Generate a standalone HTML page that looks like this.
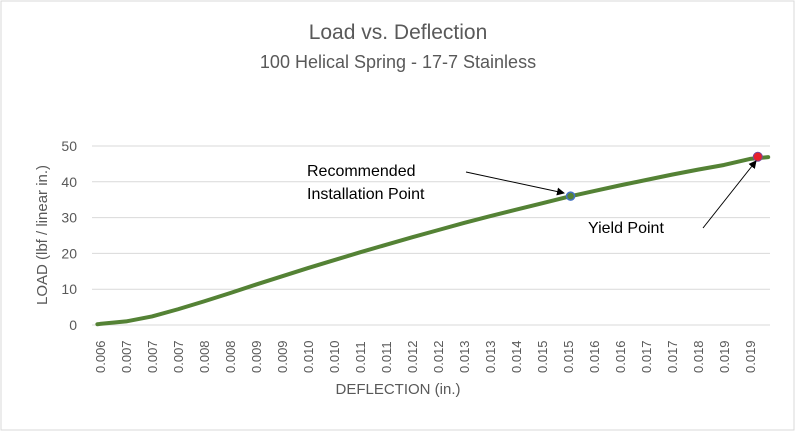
<!DOCTYPE html>
<html><head><meta charset="utf-8"><style>
body{margin:0;background:#fff}
svg{display:block;font-family:"Liberation Sans",sans-serif}
</style></head><body>
<svg id="chart" width="796" height="432">
<rect x="1" y="1" width="793" height="429" fill="#fff" stroke="#d9d9d9"/>
<text x="398" y="39" text-anchor="middle" font-size="21" fill="#595959">Load vs. Deflection</text>
<text x="398" y="68" text-anchor="middle" font-size="18" fill="#595959">100 Helical Spring - 17-7 Stainless</text>
<g id="grid"></g><g id="yt"></g><g id="xt"></g><g id="series"></g>
<text x="398" y="394" text-anchor="middle" font-size="15" fill="#595959">DEFLECTION (in.)</text>
<text transform="translate(47,235) rotate(-90)" text-anchor="middle" font-size="15" fill="#595959">LOAD (lbf / linear in.)</text>
<defs><marker id="ah" markerWidth="8" markerHeight="8" refX="7" refY="4" orient="auto"><path d="M0,0 L8,4 L0,8 z" fill="#000"/></marker></defs>
<text x="307" y="176" font-size="16" fill="#000">Recommended</text>
<text x="307" y="199" font-size="16" fill="#000">Installation Point</text>
<line x1="466" y1="172" x2="564" y2="193" stroke="#000" stroke-width="1" marker-end="url(#ah)"/>
<text x="588" y="233" font-size="16" fill="#000">Yield Point</text>
<line x1="703" y1="228" x2="756" y2="161" stroke="#000" stroke-width="1" marker-end="url(#ah)"/>
</svg>
<script>
const tickLabels=["0.006","0.007","0.007","0.007","0.008","0.008","0.009","0.009","0.010","0.010","0.011","0.011","0.012","0.012","0.013","0.013","0.014","0.015","0.015","0.016","0.016","0.017","0.017","0.018","0.019","0.019"];
const yTicks=[0,10,20,30,40,50];
const xIdx=[-0.1,0,1,2,3,4,5,6,7,8,9,10,11,12,13,14,15,16,17,18,19,20,21,22,23,24,25,25.7];
const loads=[0.2,0.3,1,2.4,4.4,6.6,8.9,11.3,13.6,15.9,18.1,20.3,22.4,24.5,26.5,28.5,30.4,32.2,34,35.8,37.4,39,40.5,42,43.4,44.7,46.4,46.9];
const recommended={i:18.1,v:36};
const yieldPt={i:25.3,v:47};
const NS="http://www.w3.org/2000/svg";
const x=i=>100+i*26;
const y=v=>325-v*3.58;
function mk(t,a,p){const e=document.createElementNS(NS,t);for(const k in a)e.setAttribute(k,a[k]);p.appendChild(e);return e;}
const grid=document.getElementById('grid'),yt=document.getElementById('yt'),xt=document.getElementById('xt'),se=document.getElementById('series');
yTicks.forEach(v=>{
 const l=mk('line',{x1:92,x2:770,y1:y(v),y2:y(v),stroke:'#d9d9d9','stroke-width':1},grid);
 
 
 const t=mk('text',{x:77,y:y(v)+5,'text-anchor':'end','font-size':14,fill:'#595959'},yt);
 t.textContent=v;
 
 
});
tickLabels.forEach((s,i)=>{
 const t=mk('text',{transform:`translate(${x(i)+5},${373}) rotate(-90)`,'font-size':13,fill:'#595959'},xt);
 t.textContent=s;
 
 
});
const d=xIdx.map((i,k)=>(k?'L':'M')+x(i)+','+y(loads[k])).join(' ');
const p=mk('path',{d:d,fill:'none',stroke:'#548235','stroke-width':4,'stroke-linejoin':'round','stroke-linecap':'round'},se);


const c1=mk('circle',{cx:x(recommended.i),cy:y(recommended.v),r:4,fill:'#548235',stroke:'#4472c4','stroke-width':1.5},se);


const c2=mk('circle',{cx:x(yieldPt.i),cy:y(yieldPt.v),r:4.5,fill:'#e8202a',stroke:'#7a4a9a','stroke-width':1},se);


</script>
</body></html>
